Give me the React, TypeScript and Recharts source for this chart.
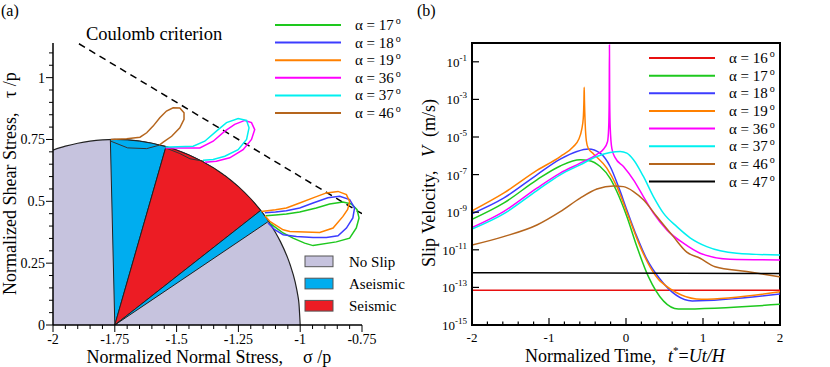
import React from "react";
import { Area, ComposedChart, Line, ReferenceArea, XAxis, YAxis } from "recharts";

type Pt = [number, number];

const SERIF = "'Liberation Serif', 'Times New Roman', serif";

// ---------- panel (a): stress paths, [sigma/p, tau/p] ----------
const noSlipArc: Pt[] = [
  [-2, 0.7071], [-1.95, 0.7228], [-1.9, 0.7348], [-1.85, 0.7433], [-1.8, 0.7483],
  [-1.75, 0.75], [-1.7, 0.7483], [-1.65, 0.7433], [-1.6, 0.7348], [-1.55, 0.7228],
  [-1.5, 0.7071], [-1.45, 0.6874], [-1.4, 0.6633], [-1.35, 0.6344], [-1.3, 0.6],
  [-1.25, 0.559], [-1.2, 0.5099], [-1.15, 0.45], [-1.1, 0.3742], [-1.08, 0.337],
  [-1.05, 0.2693], [-1.04, 0.2417], [-1.02, 0.172], [-1.01, 0.122], [-1.005, 0.0866], [-1, 0],
];
const aseismicWedgeA: Pt[] = [
  [-1.75, 0], [-1.768, 0.7498], [-1.75, 0.75], [-1.7, 0.7483], [-1.65, 0.7433],
  [-1.6, 0.7348], [-1.543, 0.721], [-1.75, 0],
];
const seismicWedge: Pt[] = [
  [-1.75, 0], [-1.543, 0.721], [-1.5, 0.7071], [-1.45, 0.6874], [-1.4, 0.6633],
  [-1.35, 0.6344], [-1.3, 0.6], [-1.25, 0.559], [-1.2, 0.5099], [-1.16, 0.463], [-1.75, 0],
];
const aseismicWedgeB: Pt[] = [
  [-1.75, 0], [-1.16, 0.463], [-1.15, 0.45], [-1.128, 0.419], [-1.75, 0],
];
const coulombLine: Pt[] = [[-1.895, 1.137], [-0.75, 0.45]];

const path17: Pt[] = [
  [-1.139, 0.442], [-1.1, 0.445], [-1.056, 0.449], [-1.002, 0.457], [-0.935, 0.473],
  [-0.881, 0.489], [-0.827, 0.497], [-0.793, 0.489], [-0.77, 0.466], [-0.762, 0.433],
  [-0.773, 0.392], [-0.8, 0.351], [-0.854, 0.336], [-0.948, 0.321], [-0.982, 0.331],
  [-1.029, 0.351], [-1.069, 0.372], [-1.096, 0.392], [-1.123, 0.412],
];
const path18: Pt[] = [
  [-1.143, 0.454], [-1.1, 0.457], [-1.056, 0.462], [-1.002, 0.473], [-0.948, 0.493],
  [-0.888, 0.514], [-0.84, 0.52], [-0.8, 0.507], [-0.78, 0.473], [-0.787, 0.433],
  [-0.813, 0.392], [-0.847, 0.361], [-0.894, 0.354], [-0.948, 0.354], [-1.015, 0.358],
  [-1.069, 0.365], [-1.103, 0.385], [-1.13, 0.412],
];
const path19: Pt[] = [
  [-1.157, 0.459], [-1.1, 0.466], [-1.056, 0.473], [-1.002, 0.493], [-0.948, 0.514],
  [-0.894, 0.534], [-0.847, 0.54], [-0.813, 0.527], [-0.8, 0.499], [-0.808, 0.467],
  [-0.827, 0.439], [-0.867, 0.392], [-0.921, 0.374], [-1.042, 0.378], [-1.069, 0.385],
  [-1.123, 0.419], [-1.143, 0.442],
];
const path36: Pt[] = [
  [-1.545, 0.716], [-1.527, 0.716], [-1.406, 0.716], [-1.352, 0.743], [-1.305, 0.784],
  [-1.265, 0.811], [-1.224, 0.827], [-1.197, 0.818], [-1.184, 0.79], [-1.197, 0.75],
  [-1.231, 0.709], [-1.285, 0.676], [-1.339, 0.662], [-1.386, 0.658],
];
const path37: Pt[] = [
  [-1.545, 0.72], [-1.527, 0.72], [-1.433, 0.723], [-1.386, 0.743], [-1.339, 0.784],
  [-1.298, 0.818], [-1.251, 0.835], [-1.217, 0.827], [-1.207, 0.797], [-1.217, 0.75],
  [-1.251, 0.709], [-1.305, 0.682], [-1.352, 0.669], [-1.393, 0.666],
];
const path46: Pt[] = [
  [-1.766, 0.75], [-1.702, 0.753], [-1.648, 0.759], [-1.621, 0.777], [-1.595, 0.804],
  [-1.568, 0.838], [-1.541, 0.865], [-1.514, 0.878], [-1.487, 0.877], [-1.47, 0.858],
  [-1.47, 0.831], [-1.487, 0.797], [-1.52, 0.763], [-1.554, 0.739], [-1.57, 0.727],
];
// return legs that run inside the circle (drawn dark)
const inner36: Pt[] = [[-1.39, 0.662], [-1.446, 0.672], [-1.487, 0.693], [-1.527, 0.709], [-1.545, 0.716]];
const inner46: Pt[] = [[-1.57, 0.727], [-1.621, 0.713], [-1.698, 0.716], [-1.766, 0.743]];

const alphaA = ["17", "18", "19", "36", "37", "46"];
const colorA = ["#1ec81e", "#3c3cff", "#ff8000", "#ff00ff", "#00f0f0", "#b5651d"];
const pathsA = [path17, path18, path19, path36, path37, path46];

const regionNames = ["No Slip", "Aseismic", "Seismic"];
const regionColors = ["#c6c3de", "#00adef", "#ec1c24"];

const xMajorA = [-2, -1.75, -1.5, -1.25, -1, -0.75];
const yMajorA = [0, 0.25, 0.5, 0.75, 1];

// ---------- panel (b): slip velocity, [t*, log10 V] ----------
const vel16: Pt[] = [[-2, -13.15], [2, -13.15]];
const vel17: Pt[] = [
  [-2, -9.38], [-1.59, -8.52], [-1.157, -7.28], [-0.854, -6.54], [-0.595, -6.21],
  [-0.487, -6.25], [-0.336, -6.57], [-0.206, -7.2], [-0.119, -7.9], [0.011, -9.23],
  [0.141, -10.83], [0.291, -12.43], [0.68, -14.15], [2, -13.9],
];
const vel18: Pt[] = [
  [-2, -9.08], [-1.59, -8.25], [-1.157, -7.01], [-0.854, -6.18], [-0.638, -5.77],
  [-0.487, -5.64], [-0.336, -5.86], [-0.206, -6.57], [-0.098, -7.64], [0.011, -8.88],
  [0.141, -10.3], [0.27, -11.5], [0.43, -12.5], [0.86, -13.72], [2, -13.35],
];
const vel19: Pt[] = [
  [-2, -8.93], [-1.59, -7.99], [-1.157, -6.78], [-0.854, -6.04], [-0.682, -5.51],
  [-0.617, -5.15], [-0.575, -4.6], [-0.555, -4.0], [-0.546, -3.0], [-0.543, -2.36],
  [-0.54, -3.0], [-0.53, -4.3], [-0.515, -5.2], [-0.49, -5.6], [-0.422, -5.9],
  [-0.249, -6.66], [-0.119, -7.64], [0.032, -9.23], [0.184, -10.83], [0.335, -12.07],
  [0.44, -12.65], [0.98, -13.63], [2, -13.23],
];
const vel36: Pt[] = [
  [-2, -9.82], [-1.59, -8.97], [-1.157, -7.72], [-0.854, -6.92], [-0.595, -6.39],
  [-0.378, -5.92], [-0.293, -5.65], [-0.24, -5.25], [-0.225, -4.5], [-0.218, -3.0],
  [-0.215, -0.1], [-0.212, -3.0], [-0.205, -4.5], [-0.184, -5.6], [-0.141, -6.1],
  [-0.033, -6.57], [0.097, -7.28], [0.226, -8.17], [0.356, -9.05], [0.53, -9.94],
  [0.745, -10.65], [0.962, -11.18], [1.351, -11.5], [2, -11.54],
];
const vel37: Pt[] = [
  [-2, -9.9], [-1.59, -9.09], [-1.157, -7.85], [-0.854, -7.01], [-0.595, -6.48],
  [-0.378, -6.04], [-0.206, -5.83], [-0.076, -5.77], [0.011, -5.86], [0.097, -6.21],
  [0.226, -7.1], [0.356, -8.17], [0.486, -9.05], [0.66, -9.77], [0.832, -10.36],
  [1.049, -10.83], [1.438, -11.18], [2, -11.28],
];
const vel46: Pt[] = [
  [-2, -10.75], [-1.59, -10.3], [-1.157, -9.68], [-0.854, -8.97], [-0.595, -8.25],
  [-0.378, -7.77], [-0.163, -7.6], [-0.033, -7.64], [0.097, -7.9], [0.226, -8.34],
  [0.4, -9.23], [0.615, -10.3], [0.789, -11.12], [0.962, -11.45], [1.157, -11.9],
  [1.568, -12.16], [2, -12.44],
];
const vel47: Pt[] = [[-2, -12.22], [2, -12.26]];

const alphaB = ["16", "17", "18", "19", "36", "37", "46", "47"];
const colorB = ["#e81010", "#1ec81e", "#3c3cff", "#ff8000", "#ff00ff", "#00f0f0", "#b5651d", "#000000"];
const velB = [vel16, vel17, vel18, vel19, vel36, vel37, vel46, vel47];

const yExpB = [-15, -13, -11, -9, -7, -5, -3, -1];

// ---------- helpers ----------
const toXY = (pts: Pt[]) => pts.map(([x, y]) => ({ x, y }));
const toTV = (pts: Pt[]) => pts.map(([t, e]) => ({ t, v: Math.pow(10, e) }));
const steps = (a: number, b: number, s: number) => {
  const out: number[] = [];
  for (let i = 0; a + i * s <= b + 1e-9; i++) out.push(Number((a + i * s).toFixed(4)));
  return out;
};
const onGrid = (v: number, s: number) => Math.abs(v / s - Math.round(v / s)) < 1e-6;

const xTicksA = steps(-2, -0.75, 0.05);
const yTicksA = steps(0, 1.1, 0.05);
const xTicksB = steps(-2, 2, 0.2);
const yTicksB = yExpB.map((e) => Math.pow(10, e));

function TickAX(props: any) {
  const { x, y, payload } = props;
  const v = payload.value;
  const major = xMajorA.some((m) => Math.abs(m - v) < 1e-6);
  return (
    <g>
      <line x1={x} x2={x} y1={y} y2={y + (major ? 7 : 4)} stroke="#000" />
      {major && (
        <text x={x} y={y + 19} textAnchor="middle" fontSize={14} fontFamily={SERIF} fill="#000">
          {String(v)}
        </text>
      )}
    </g>
  );
}

function TickAY(props: any) {
  const { x, y, payload } = props;
  const v = payload.value;
  const major = yMajorA.some((m) => Math.abs(m - v) < 1e-6);
  return (
    <g>
      <line x1={x} x2={x - (major ? 7 : 4)} y1={y} y2={y} stroke="#000" />
      {major && (
        <text x={x - 8} y={y + 5} textAnchor="end" fontSize={14} fontFamily={SERIF} fill="#000">
          {String(v)}
        </text>
      )}
    </g>
  );
}

function TickBX(props: any) {
  const { x, y, payload } = props;
  const v = payload.value;
  const major = onGrid(v, 1);
  return (
    <g>
      <line x1={x} x2={x} y1={y} y2={y - (major ? 7 : 3.5)} stroke="#000" strokeWidth={1.2} />
      {major && (
        <text x={x} y={y + 17} textAnchor="middle" fontSize={13} fontFamily={SERIF} fill="#000">
          {String(Math.round(v))}
        </text>
      )}
    </g>
  );
}

function TickBY(props: any) {
  const { x, y, payload } = props;
  const e = Math.round(Math.log10(payload.value));
  return (
    <g>
      <line x1={x} x2={x + 7} y1={y} y2={y} stroke="#000" strokeWidth={1.2} />
      <text x={x - 5} y={y + 5} textAnchor="end" fontSize={13} fontFamily={SERIF} fill="#000">
        10<tspan fontSize={9} dy={-6}>{String(e)}</tspan>
      </text>
    </g>
  );
}

const lineProps = {
  dot: false as const,
  activeDot: false as const,
  isAnimationActive: false,
  type: "linear" as const,
};

function StressChart() {
  return (
    <ComposedChart width={415} height={367} margin={{ top: 43, right: 53, bottom: 12, left: 13 }}>
      <XAxis
        type="number"
        dataKey="x"
        domain={[-2, -0.75]}
        ticks={xTicksA}
        interval={0}
        tickSize={0}
        tickMargin={0}
        tickLine={false}
        tick={<TickAX />}
        height={30}
        axisLine={{ stroke: "#000", strokeWidth: 1.5 }}
        allowDataOverflow
      />
      <YAxis
        type="number"
        dataKey="y"
        domain={[0, 1.14]}
        ticks={yTicksA}
        interval={0}
        tickSize={0}
        tickMargin={0}
        tickLine={false}
        tick={<TickAY />}
        width={40}
        axisLine={{ stroke: "#000", strokeWidth: 1.5 }}
        allowDataOverflow
      />
      <Area data={toXY(noSlipArc)} dataKey="y" type="monotone" fill={regionColors[0]} fillOpacity={1}
        stroke="#222" strokeWidth={1.2} dot={false} activeDot={false} isAnimationActive={false} />
      <Area data={toXY(aseismicWedgeA)} dataKey="y" type="linear" fill={regionColors[1]} fillOpacity={1}
        stroke="#222" strokeWidth={1} dot={false} activeDot={false} isAnimationActive={false} />
      <Area data={toXY(seismicWedge)} dataKey="y" type="linear" fill={regionColors[2]} fillOpacity={1}
        stroke="#222" strokeWidth={1} dot={false} activeDot={false} isAnimationActive={false} />
      <Area data={toXY(aseismicWedgeB)} dataKey="y" type="linear" fill={regionColors[1]} fillOpacity={1}
        stroke="#222" strokeWidth={1} dot={false} activeDot={false} isAnimationActive={false} />
      <Line data={toXY(coulombLine)} dataKey="y" stroke="#000" strokeWidth={1.5} strokeDasharray="7 5" {...lineProps} />
      <Line data={toXY(inner36)} dataKey="y" stroke="#333" strokeWidth={1} {...lineProps} />
      <Line data={toXY(inner46)} dataKey="y" stroke="#333" strokeWidth={1} {...lineProps} />
      {pathsA.map((p, i) => (
        <Line key={alphaA[i]} data={toXY(p)} dataKey="y" name={alphaA[i]} stroke={colorA[i]} strokeWidth={1.5} {...lineProps} />
      ))}
    </ComposedChart>
  );
}

function VelocityChart() {
  return (
    <ComposedChart width={415} height={367} margin={{ top: 43, right: 50, bottom: 12, left: 0 }}>
      <XAxis
        type="number"
        dataKey="t"
        domain={[-2, 2]}
        ticks={xTicksB}
        interval={0}
        tickSize={0}
        tickMargin={0}
        tickLine={false}
        tick={<TickBX />}
        height={30}
        axisLine={{ stroke: "#000", strokeWidth: 2 }}
        allowDataOverflow
      />
      <YAxis
        type="number"
        dataKey="v"
        scale="log"
        domain={[1e-15, 1]}
        ticks={yTicksB}
        interval={0}
        tickSize={0}
        tickMargin={0}
        tickLine={false}
        tick={<TickBY />}
        width={57}
        axisLine={{ stroke: "#000", strokeWidth: 2 }}
        allowDataOverflow
      />
      {velB.map((p, i) => (
        <Line key={alphaB[i]} data={toTV(p)} dataKey="v" name={alphaB[i]} stroke={colorB[i]} strokeWidth={1.5}
          {...lineProps} type={p.length > 2 ? "monotone" : "linear"} />
      ))}
      <ReferenceArea x1={-2} x2={2} y1={1e-15} y2={1} fill="none" stroke="#000" strokeWidth={2} ifOverflow="visible" />
    </ComposedChart>
  );
}

function Deg({ n }: { n: string }) {
  return (
    <>
      {"α = " + n}
      <tspan fontSize={10} dx={2} dy={-6}>o</tspan>
    </>
  );
}

function Overlay() {
  const t = { fontFamily: SERIF, fill: "#000" };
  return (
    <svg width={830} height={367} style={{ position: "absolute", left: 0, top: 0, pointerEvents: "none" }}>
      <text x={1} y={16} fontSize={16} {...t}>(a)</text>
      <text x={417} y={16} fontSize={16} {...t}>(b)</text>
      <text x={86} y={40} fontSize={18.5} {...t}>Coulomb criterion</text>

      {/* panel (a) axis titles */}
      <text x={86.5} y={363} fontSize={18} {...t}>Normalized Normal Stress,</text>
      <text x={303} y={363} fontSize={18} {...t}>σ /p</text>
      <text transform="translate(16,295) rotate(-90)" fontSize={18} {...t}>Normalized Shear Stress,</text>
      <text transform="translate(16,98) rotate(-90)" fontSize={18} {...t}>τ /p</text>

      {/* panel (b) axis titles */}
      <text x={525} y={362} fontSize={18} {...t}>Normalized Time,</text>
      <text x={668} y={362} fontSize={18} {...t}>
        <tspan fontStyle="italic">t</tspan>
        <tspan fontSize={11} dy={-8}>*</tspan>
        <tspan dy={8}>=</tspan>
        <tspan fontStyle="italic">Ut/H</tspan>
      </text>
      <text transform="translate(435,267) rotate(-90)" fontSize={18} {...t}>Slip Velocity,</text>
      <text transform="translate(435,157) rotate(-90)" fontSize={18} fontStyle="italic" {...t}>V</text>
      <text transform="translate(435,137) rotate(-90)" fontSize={18} {...t}>(m/s)</text>

      {/* panel (a) legend */}
      {alphaA.map((a, i) => {
        const y = 25 + i * 17.6;
        return (
          <g key={a}>
            <line x1={275} x2={341} y1={y} y2={y} stroke={colorA[i]} strokeWidth={2} />
            <text x={355} y={y + 5} fontSize={15} {...t}><Deg n={a} /></text>
          </g>
        );
      })}
      {regionNames.map((r, i) => {
        const y = 256 + i * 22.2;
        return (
          <g key={r}>
            <rect x={305} y={y} width={28} height={10.7} fill={regionColors[i]} stroke="#555" strokeWidth={1} />
            <text x={349} y={y + 11} fontSize={15} {...t}>{r}</text>
          </g>
        );
      })}

      {/* panel (b) legend */}
      {alphaB.map((a, i) => {
        const y = 58 + i * 17.65;
        return (
          <g key={a}>
            <line x1={649} x2={715} y1={y} y2={y} stroke={colorB[i]} strokeWidth={2} />
            <text x={729} y={y + 5} fontSize={15} {...t}><Deg n={a} /></text>
          </g>
        );
      })}
    </svg>
  );
}

export default function App() {
  return (
    <div style={{ position: "absolute", left: 0, top: 0, width: 830, height: 367, background: "#fff" }}>
      <div style={{ position: "absolute", left: 0, top: 0 }}>
        <StressChart />
      </div>
      <div style={{ position: "absolute", left: 415, top: 0 }}>
        <VelocityChart />
      </div>
      <Overlay />
    </div>
  );
}
